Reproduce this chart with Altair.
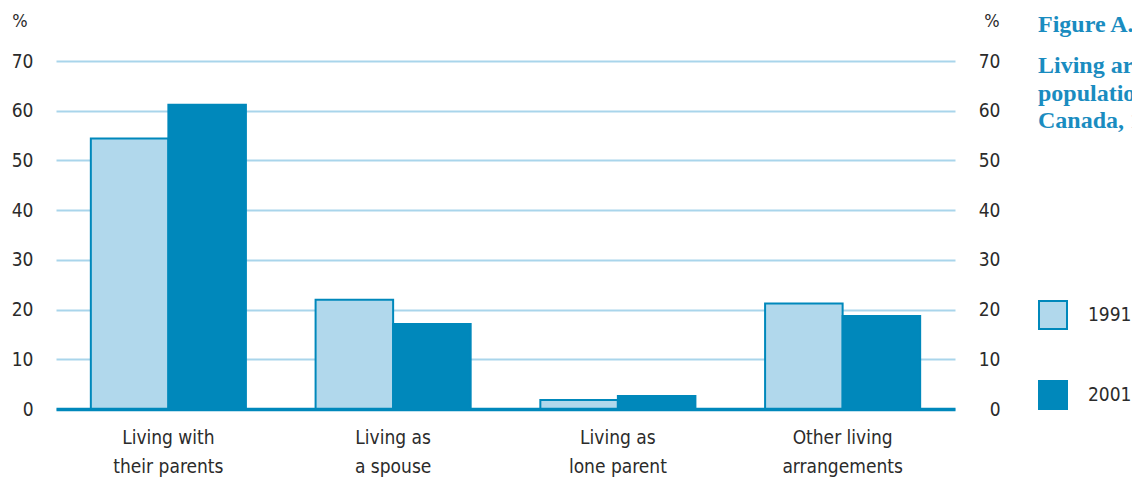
import altair as alt
import pandas as pd

# Living arrangements, share of young adults (%)
categories = [
    "Living with their parents",
    "Living as a spouse",
    "Living as lone parent",
    "Other living arrangements",
]
label_lines = {
    "Living with their parents": ["Living with", "their parents"],
    "Living as a spouse": ["Living as", "a spouse"],
    "Living as lone parent": ["Living as", "lone parent"],
    "Other living arrangements": ["Other living", "arrangements"],
}
years = ["1991", "2001"]
pct_1991 = [54.4, 22.0, 1.8, 21.2]
pct_2001 = [61.2, 17.1, 2.6, 18.7]
y_ticks = [0, 10, 20, 30, 40, 50, 60, 70]

title_head = "Figure A.1"
title_lines = [
    "Living arrangements of the young adult",
    "population aged 20 to 29,",
    "Canada, 1991 and 2001",
]

LIGHT = "#b1d8ec"
DARK = "#0088bb"
GRID = "#a9d5eb"
TEXT = "#2b2b2b"
SANS = "Liberation Sans Narrow, DejaVu Sans Condensed, Roboto, sans-serif"
SERIF = "Liberation Serif, DejaVu Serif, serif"

rows = []
for c, a, b in zip(categories, pct_1991, pct_2001):
    rows.append({"category": c, "year": "1991", "pct": a})
    rows.append({"category": c, "year": "2001", "pct": b})
df = pd.DataFrame(rows)

label_expr = " : ".join(
    f"datum.value == '{k}' ? {v!r}" for k, v in label_lines.items()
) + " : datum.value"

x_enc = alt.X(
    "category:N",
    sort=categories,
    scale=alt.Scale(paddingInner=0.31, paddingOuter=0.155),
    axis=alt.Axis(
        title=None,
        labelExpr=label_expr,
        labelAngle=0,
        ticks=False,
        domainColor=DARK,
        domainWidth=3.5,
        labelFont=SANS,
        labelFontSize=19,
        labelColor=TEXT,
        labelPadding=19,
        labelLineHeight=29,
        labelBaseline="top",
        zindex=2,
    ),
)

y_scale = alt.Scale(domain=[0, 70], nice=False)

bars = alt.Chart(df).mark_bar(stroke=DARK, strokeWidth=2).encode(
    x=x_enc,
    xOffset=alt.XOffset("year:N", sort=years, scale=alt.Scale(paddingInner=0, paddingOuter=0)),
    y=alt.Y(
        "pct:Q",
        scale=y_scale,
        axis=alt.Axis(
            title=None,
            values=y_ticks,
            grid=True,
            gridColor=GRID,
            gridWidth=2,
            domain=False,
            ticks=False,
            labelFont=SANS,
            labelFontSize=19,
            labelColor=TEXT,
            labelPadding=23,
            orient="left",
        ),
    ),
    fill=alt.Fill(
        "year:N",
        sort=years,
        scale=alt.Scale(domain=years, range=[LIGHT, DARK]),
        legend=alt.Legend(
            title=None,
            orient="none",
            legendX=982,
            legendY=239,
            symbolType="square",
            symbolSize=784,
            symbolStrokeColor=DARK,
            symbolStrokeWidth=2,
            symbolOpacity=1,
            rowPadding=44,
            labelOffset=20,
            labelFont=SANS,
            labelFontSize=19,
            labelColor=TEXT,
        ),
    ),
)

# right-hand value axis (labels only)
right_axis = alt.Chart(df).mark_bar(opacity=0).encode(
    y=alt.Y(
        "pct:Q",
        scale=y_scale,
        axis=alt.Axis(
            title=None,
            values=y_ticks,
            grid=False,
            domain=False,
            ticks=False,
            orient="right",
            labelFont=SANS,
            labelFontSize=19,
            labelColor=TEXT,
            labelAlign="right",
            labelPadding=45,
        ),
    ),
)

one = pd.DataFrame({"t": ["%"]})
pct_left = alt.Chart(one).mark_text(
    font=SANS, fontSize=18, color=TEXT, align="center", baseline="alphabetic"
).encode(text="t:N", x=alt.value(-36), y=alt.value(-34))
pct_right = alt.Chart(one).mark_text(
    font=SANS, fontSize=18, color=TEXT, align="center", baseline="alphabetic"
).encode(text="t:N", x=alt.value(936), y=alt.value(-34))

head = alt.Chart(pd.DataFrame({"t": [title_head]})).mark_text(
    font=SERIF, fontSize=24, fontWeight="bold", color="#1a8cc0",
    align="left", baseline="alphabetic",
).encode(text="t:N", x=alt.value(982), y=alt.value(-29))

sub = alt.Chart(pd.DataFrame({"t": ["\n".join(title_lines)]})).mark_text(
    font=SERIF, fontSize=24, fontWeight="bold", color="#1a8cc0",
    align="left", baseline="alphabetic", lineBreak="\n", lineHeight=27.5,
).encode(text="t:N", x=alt.value(982), y=alt.value(12))

chart = (
    alt.layer(bars, right_axis, pct_left, pct_right, head, sub)
    .resolve_scale(y="shared")
    .resolve_axis(y="independent")
    .properties(
        width=899,
        height=348,
        autosize=alt.AutoSizeParams(type="none"),
        padding={"left": 56, "top": 61, "right": 177, "bottom": 69},
        background="white",
    )
    .configure_view(stroke=None)
)

chart.save("out.html", embed_options={"renderer": "svg", "actions": False})
